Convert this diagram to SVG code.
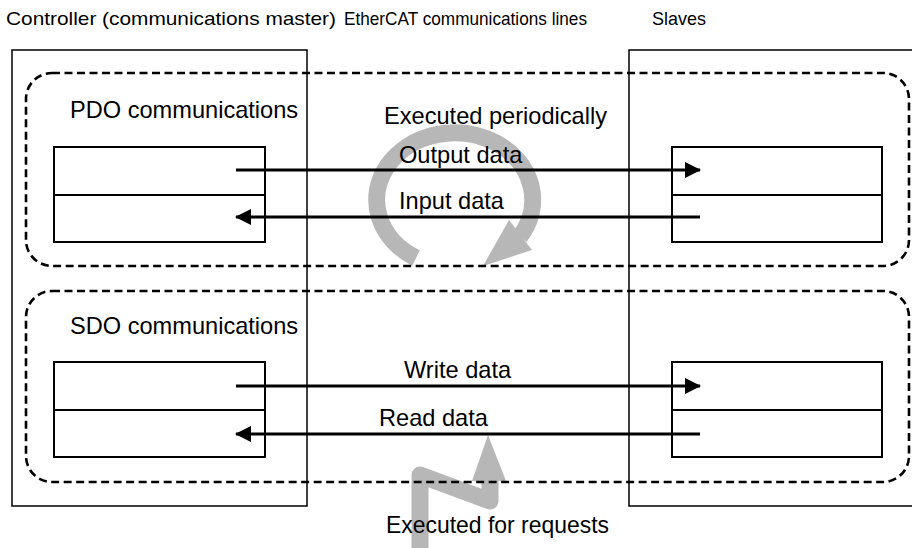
<svg xmlns="http://www.w3.org/2000/svg" width="912" height="548" viewBox="0 0 912 548">
<style>
  text{font-family:"Liberation Sans",Arial,sans-serif;fill:#000}
  .t{font-size:19px}
  .l{font-size:23.6px}
  .big{fill:none;stroke:#000;stroke-width:1.5}
  .dash{fill:none;stroke:#000;stroke-width:2.6;stroke-dasharray:8 4.5}
  .box{fill:none;stroke:#000;stroke-width:2}
  .arr{stroke:#000;stroke-width:3;fill:none}
  .gray{fill:none;stroke:#b7b7b7;stroke-width:17}
</style>
<defs>
  <marker id="ah" viewBox="0 0 16 16" refX="15" refY="8" markerWidth="16" markerHeight="16" markerUnits="userSpaceOnUse" orient="auto">
    <path d="M0,0 L16,8 L0,16 Z" fill="#000"/>
  </marker>
</defs>
<rect width="912" height="548" fill="#fff"/>
<g id="cycle">
  <path class="gray" d="M416,258 A78,67 0 1 1 520,236.5"/>
  <polygon points="509,220 532,250 483,266" fill="#b7b7b7"/>
</g>
<g id="request">
  <polyline class="gray" points="420,552 420,475 490,501 490,478" stroke-width="16" stroke-linejoin="round"/>
  <polygon points="472,481 506,481 488,435" fill="#b7b7b7"/>
</g>
<g id="controller">
  <rect class="big" x="12" y="50" width="295" height="456"/>
</g>
<g id="slaves">
  <rect class="big" x="629" y="50" width="300" height="456"/>
</g>
<g id="pdo">
  <rect class="dash" x="26" y="73" width="883" height="193" rx="26"/>
</g>
<g id="sdo">
  <rect class="dash" x="26" y="291" width="883" height="191" rx="26"/>
</g>
<g id="pdo-master">
  <rect class="box" x="54" y="147" width="211" height="95"/>
  <line class="box" x1="54" y1="195" x2="265" y2="195"/>
</g>
<g id="pdo-slave">
  <rect class="box" x="672" y="147" width="210" height="95"/>
  <line class="box" x1="672" y1="195" x2="882" y2="195"/>
</g>
<g id="sdo-master">
  <rect class="box" x="54" y="362" width="211" height="95"/>
  <line class="box" x1="54" y1="410" x2="265" y2="410"/>
</g>
<g id="sdo-slave">
  <rect class="box" x="672" y="362" width="210" height="95"/>
  <line class="box" x1="672" y1="410" x2="882" y2="410"/>
</g>
<g id="connectors">
  <line class="arr" x1="236" y1="170" x2="700" y2="170" marker-end="url(#ah)"/>
  <line class="arr" x1="700" y1="217" x2="236" y2="217" marker-end="url(#ah)"/>
  <line class="arr" x1="236" y1="386" x2="700" y2="386" marker-end="url(#ah)"/>
  <line class="arr" x1="700" y1="434" x2="236" y2="434" marker-end="url(#ah)"/>
</g>
<g id="labels">
  <text class="t" x="6" y="25" textLength="330" lengthAdjust="spacingAndGlyphs">Controller (communications master)</text>
  <text class="t" x="344" y="25" textLength="243" lengthAdjust="spacingAndGlyphs">EtherCAT communications lines</text>
  <text class="t" x="652" y="25" textLength="54" lengthAdjust="spacingAndGlyphs">Slaves</text>
  <text class="l" x="70" y="118">PDO communications</text>
  <text class="l" x="70" y="334">SDO communications</text>
  <text class="l" x="384" y="124">Executed periodically</text>
  <text class="l" x="399" y="163">Output data</text>
  <text class="l" x="399" y="209">Input data</text>
  <text class="l" x="404" y="378">Write data</text>
  <text class="l" x="379" y="426">Read data</text>
  <text class="l" x="386" y="533" textLength="223" lengthAdjust="spacingAndGlyphs">Executed for requests</text>
</g>
</svg>
